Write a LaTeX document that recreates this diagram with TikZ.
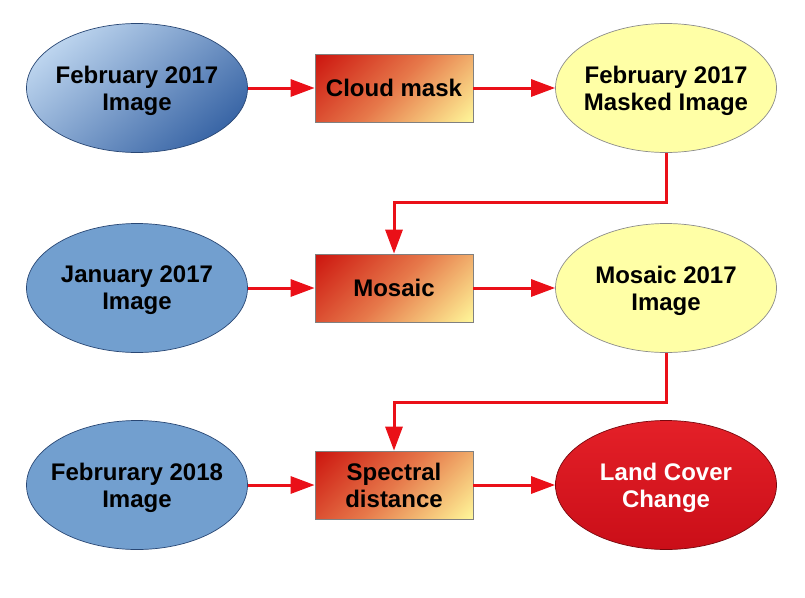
\documentclass[tikz,border=0pt]{standalone}
\usepackage{fontspec}
\setmainfont{Liberation Sans}
\usetikzlibrary{shapes.geometric,arrows.meta,positioning}
\definecolor{flowred}{HTML}{EA1018}
\definecolor{skyblue}{HTML}{729FCF}
\definecolor{paleblue}{HTML}{BCD4EE}
\definecolor{deepblue}{HTML}{3A66A6}
\definecolor{lightyellow}{HTML}{FFFFA6}
\definecolor{boxred}{HTML}{CC140E}
\definecolor{boxorange}{HTML}{E6784A}
\definecolor{boxyellow}{HTML}{FFF89A}
\definecolor{hotred}{HTML}{E42028}
\definecolor{darkred}{HTML}{CA0E18}
% corner to corner gradient for the process boxes
\pgfdeclareverticalshading{procshade}{100bp}{color(0bp)=(boxyellow); color(14.6bp)=(boxyellow);
  color(50bp)=(boxorange); color(85.4bp)=(boxred); color(100bp)=(boxred)}

\begin{document}
\begin{tikzpicture}[x=1pt,y=-1pt,>={Triangle[length=24pt,width=17pt]},
every node/.style={font=\bfseries\fontsize{24}{27}\selectfont,align=center,inner sep=0pt,text depth=0pt},
img/.style={ellipse,minimum width=221pt,minimum height=129pt,inner xsep=-20pt,draw=black!60,line width=0.7pt},
blue img/.style={img,fill=skyblue,draw=deepblue!70!black},
grad img/.style={img,top color=paleblue,bottom color=deepblue,shading angle=40,draw=deepblue!70!black},
result/.style={img,fill=lightyellow,draw=black!45},
change/.style={img,top color=hotred,bottom color=darkred,draw=darkred!60!black,text=white},
proc/.style={rectangle,minimum width=158pt,minimum height=68pt,shading=procshade,shading angle=45,draw=black!50,line width=0.7pt},
flow/.style={->,draw=flowred,line width=3pt}]
\useasboundingbox (0,0) rectangle (805,597);
\node[grad img] (feb17) at (137,88) {February 2017\\Image};
\node[proc] (cloud) at (394,88) {Cloud mask};
\node[result] (masked) at (666,88) {February 2017\\Masked Image};
\node[blue img] (jan17) at (137,288) {January 2017\\Image};
\node[proc] (mosaic) at (394,288) {Mosaic};
\node[result] (mos17) at (666,288) {Mosaic 2017\\Image};
\node[blue img] (feb18) at (137,485) {Februrary 2018\\Image};
\node[proc] (spectral) at (394,485) {Spectral\\distance};
\node[change] (lcc) at (666,485) {Land Cover\\Change};
\path[flow] (feb17) -- (cloud);
\path[flow] (cloud) -- (masked);
\path[flow] (masked.south) -- ++(0,50) -| (mosaic.north);
\path[flow] (jan17) -- (mosaic);
\path[flow] (mosaic) -- (mos17);
\path[flow] (mos17.south) -- ++(0,50) -| (spectral.north);
\path[flow] (feb18) -- (spectral);
\path[flow] (spectral) -- (lcc);
\end{tikzpicture}
\end{document}
